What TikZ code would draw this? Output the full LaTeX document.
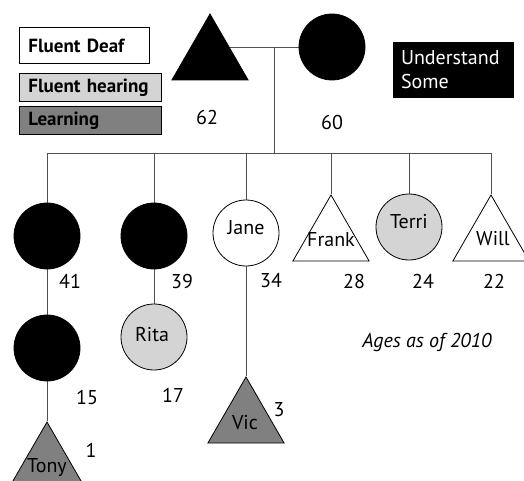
\documentclass[tikz,border=0pt]{standalone}
\usepackage{fontspec}
\setmainfont{PT Sans}
\usetikzlibrary{shapes.geometric,backgrounds}
\definecolor{lightg}{HTML}{D4D4D4}
\definecolor{darkg}{HTML}{808080}
\definecolor{lineg}{HTML}{505050}
\begin{document}
\begin{tikzpicture}[x=1pt,y=-1pt,
  every node/.style={font=\fontsize{20}{24}\selectfont},
  person/.style={circle,draw=black,line width=0.8pt,minimum size=66pt,inner sep=0pt},
  male/.style={regular polygon,regular polygon sides=3,draw=black,line width=0.8pt,minimum size=88pt,inner sep=0pt},
  nm/.style={inner sep=0pt},
  age/.style={inner sep=0pt},
  legend/.style={draw=black,line width=0.8pt,anchor=north west,minimum height=28pt,inner xsep=9pt,align=left,font=\fontsize{19}{22}\selectfont\bfseries},
  conn/.style={draw=lineg,line width=0.9pt}
]
\useasboundingbox (0,0) rectangle (524,481);
\clip (0,0) rectangle (524,481);

% legend
\node[legend,fill=white,minimum height=36pt,text width=112pt] (lfd) at (19,27) {\mbox{Fluent Deaf}};
\node[legend,fill=lightg,text width=124pt] (lfh) at (19,73) {\mbox{Fluent hearing}};
\node[legend,fill=darkg,text width=124pt] (lle) at (19,106) {\mbox{Learning}};
\node[fill=black,text=white,minimum width=121pt,minimum height=56pt,inner xsep=8pt,text width=105pt,align=left] (lus) at (453.5,70) {Understand\\Some};

% parents
\node[male,fill=black] (father) at (210,58) {};
\node[person,fill=black] (mother) at (332,47) {};

% children
\node[person,fill=black] (c41) at (47,236) {};
\node[person,fill=black] (c39) at (154,236) {};
\node[person,fill=white] (jane) at (246,233) {};
\node[male,fill=white] (frank) at (331,239) {};
\node[person,fill=lightg] (terri) at (409,227) {};
\node[male,fill=white] (will) at (491,239) {};

% grandchildren
\node[person,fill=black] (c15) at (47,348) {};
\node[person,fill=lightg] (rita) at (154,337) {};
\node[male,fill=darkg] (vic) at (246,421) {};
\node[male,fill=darkg] (tony) at (47,466) {};

% names
\node[nm] (janeN) at (246,228) {Jane};
\node[nm] (frankN) at (331,240) {Frank};
\node[nm] (terriN) at (409,222) {Terri};
\node[nm] (willN) at (493,239) {Will};
\node[nm] (ritaN) at (152,335) {Rita};
\node[nm] (vicN) at (245,423) {Vic};
\node[nm] (tonyN) at (47,468) {Tony};

% ages
\node[age] (a62) at (207,118) {62};
\node[age] (a60) at (332,123) {60};
\node[age] (a41) at (70,281) {41};
\node[age] (a39) at (182,281) {39};
\node[age] (a34) at (271,281) {34};
\node[age] (a28) at (354,281) {28};
\node[age] (a24) at (423,281) {24};
\node[age] (a22) at (494,281) {22};
\node[age] (a15) at (87,397) {15};
\node[age] (a17) at (173,395) {17};
\node[age] (a3) at (279,410) {3};
\node[age] (a1) at (91,450) {1};
\node[age,font=\fontsize{20}{22}\selectfont\itshape] (note) at (427,342) {Ages as of 2010};

% connectors
\coordinate (marr) at (274,47);
\coordinate (sib) at (274,153);
\begin{scope}[on background layer]
\draw[conn] (mother.west) -- (mother.west -| father.north);
\draw[conn] (marr) -- (sib);
\draw[conn] (c41.north |- sib) -- (will.north |- sib);
\foreach \c in {c41,c39,jane,frank,terri,will}
  \draw[conn] (\c.north |- sib) -- (\c.north);
\draw[conn] (c41.south) -- (c15.north);
\draw[conn] (c39.south) -- (rita.north);
\draw[conn] (jane.south) -- (vic.north);
\draw[conn] (c15.south) -- (tony.north);
\end{scope}
\end{tikzpicture}
\end{document}
